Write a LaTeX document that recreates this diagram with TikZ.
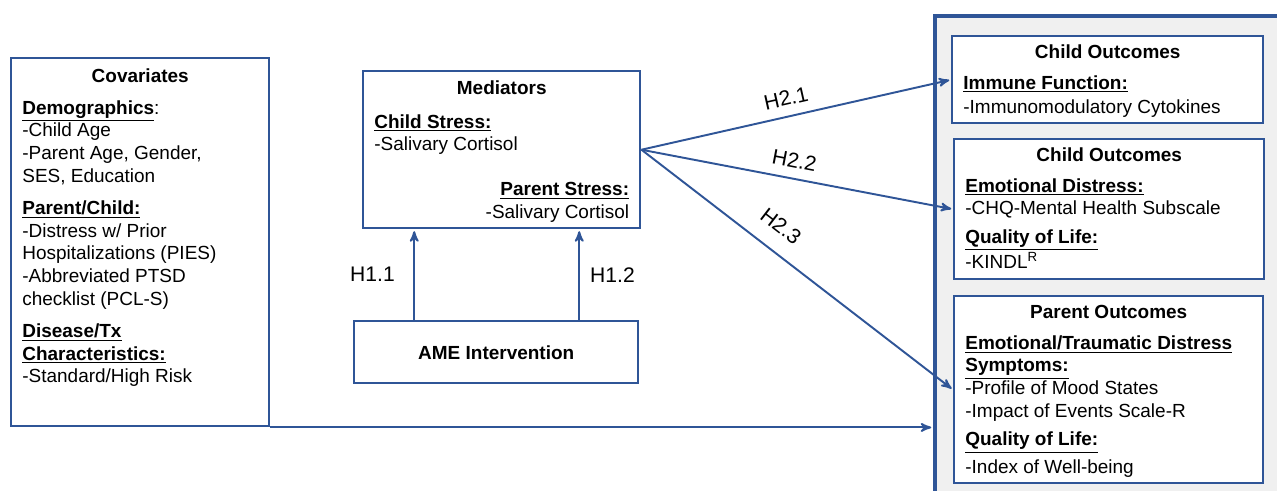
\documentclass[tikz,border=0pt]{standalone}
\usepackage{fontspec}
\setmainfont{Liberation Sans}
\usetikzlibrary{arrows,positioning}
\definecolor{boxblue}{RGB}{47,85,151}
\definecolor{panelgray}{RGB}{240,240,240}

\begin{document}
\begin{tikzpicture}[>=stealth',
    box/.style={draw=boxblue,line width=1.4pt,fill=white,inner sep=0pt,anchor=north west},
    head/.style={font=\bfseries\fontsize{10.8}{13}\selectfont,inner sep=0pt},
    body/.style={font=\fontsize{10.8}{13}\selectfont,align=left,inner sep=0pt,anchor=north west},
    link/.style={->,draw=boxblue,line width=1.1pt,shorten >=1pt},
    hyp/.style={font=\fontsize{12}{14}\selectfont,inner sep=0pt}]
  \path[use as bounding box] (0,0) rectangle (25.54,-9.82);
  \clip (0,0) rectangle (25.54,-9.82);

  % outcome panel
  \node[box,line width=2pt,fill=panelgray,minimum width=8cm,minimum height=10.5cm] (outer) at (18.66,-0.28) {};

  % covariates
  \node[box,minimum width=5.16cm,minimum height=7.36cm] (cov) at (0.2,-1.14) {};
  \node[head] (covhead) at ([yshift=-0.38cm]cov.north) {Covariates};
  \node[body] (covtxt) at ([shift={(0.24,-0.86)}]cov.north west)
    {\underline{\textbf{Demographics}}:\\
     -Child Age\\
     -Parent Age, Gender,\\
     SES, Education\\[5pt]
     \underline{\textbf{Parent/Child:}}\\
     -Distress w/ Prior\\
     Hospitalizations (PIES)\\
     -Abbreviated PTSD\\
     checklist (PCL-S)\\[5pt]
     \underline{\textbf{Disease/Tx}}\\
     \underline{\textbf{Characteristics:}}\\
     -Standard/High Risk};

  % mediators
  \node[box,minimum width=5.54cm,minimum height=3.14cm] (med) at (7.24,-1.40) {};
  \node[head] (medhead) at ([yshift=-0.36cm]med.north) {Mediators};
  \node[body] (childst) at ([shift={(0.24,-0.88)}]med.north west)
    {\underline{\textbf{Child Stress:}}\\-Salivary Cortisol};
  \node[body,anchor=north east,align=right] (parentst) at ([shift={(-0.24,-2.24)}]med.north east)
    {\underline{\textbf{Parent Stress:}}\\-Salivary Cortisol};

  % intervention
  \node[box,head,minimum width=5.68cm,minimum height=1.24cm] (ame) at (7.06,-6.40) {AME Intervention};

  % outcomes
  \node[box,minimum width=6.22cm,minimum height=1.74cm] (co1) at (19.02,-0.70) {};
  \node[head] (co1head) at ([yshift=-0.34cm]co1.north) {Child Outcomes};
  \node[body] (co1txt) at ([shift={(0.24,-0.80)}]co1.north west)
    {\underline{\textbf{Immune Function:}}\\[1pt]
     -Immunomodulatory Cytokines};

  \node[box,minimum width=6.20cm,minimum height=2.80cm] (co2) at (19.06,-2.76) {};
  \node[head] (co2head) at ([yshift=-0.34cm]co2.north) {Child Outcomes};
  \node[body] (co2txt) at ([shift={(0.24,-0.80)}]co2.north west)
    {\underline{\textbf{Emotional Distress:}}\\
     -CHQ-Mental Health Subscale\\[3pt]
     \underline{\textbf{Quality of Life:}}\\
     -KINDL\textsuperscript{R}};

  \node[box,minimum width=6.18cm,minimum height=3.74cm] (po) at (19.06,-5.90) {};
  \node[head] (pohead) at ([yshift=-0.34cm]po.north) {Parent Outcomes};
  \node[body] (potxt) at ([shift={(0.24,-0.80)}]po.north west)
    {\underline{\textbf{Emotional/Traumatic Distress}}\\
     \underline{\textbf{Symptoms:}}\\
     -Profile of Mood States\\
     -Impact of Events Scale-R\\[3pt]
     \underline{\textbf{Quality of Life:}}\\[3pt]
     -Index of Well-being};

  % hypotheses
  \coordinate (a1) at ([xshift=-1.64cm]ame.north);
  \coordinate (a2) at ([xshift=1.66cm]ame.north);
  \draw[link] (a1) -- node[hyp,left=0.37cm] (h11) {H1.1} (a1 |- med.south);
  \draw[link] (a2) -- node[hyp,right=0.2cm] (h12) {H1.2} (a2 |- med.south);

  \draw[link] (med.east) -- node[hyp,sloped,above=0.2cm,pos=0.48] (h21) {H2.1} (co1.west);
  \draw[link] (med.east) -- node[hyp,sloped,above=0.2cm,pos=0.48] (h22) {H2.2} (co2.west);
  \draw[link] (med.east) -- node[hyp,sloped,above=0.32cm,pos=0.40] (h23) {H2.3} (po.west);

  \draw[link] (cov.south east) -- (cov.south east -| outer.west);
\end{tikzpicture}
\end{document}
